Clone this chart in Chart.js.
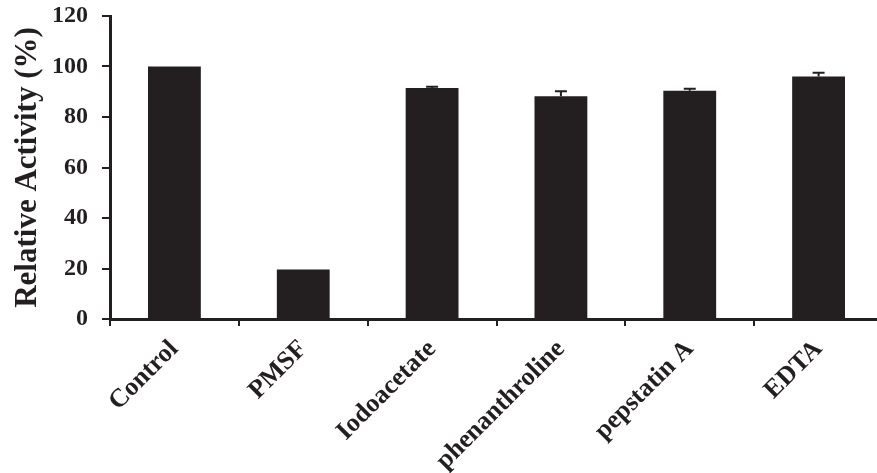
<!DOCTYPE html>
<html>
<head>
<meta charset="utf-8">
<script src="https://cdn.jsdelivr.net/npm/chart.js@4.4.1/dist/chart.umd.min.js"></script>
<style>
  html, body { margin: 0; padding: 0; background: #fff; overflow: hidden; }
  #wrap { position: relative; width: 883px; height: 473px; }
</style>
</head>
<body>
<div id="wrap"><canvas id="js-chart-activity"></canvas></div>
<script>
// Chart data
const categories = ['Control', 'PMSF', 'Iodoacetate', 'phenanthroline', 'pepstatin A', 'EDTA'];
const activityValues = [100, 19.6, 91.5, 88.2, 90.4, 96.0];
const activityErrors = [0, 0, 0.5, 2.0, 0.8, 1.5];
const yTicks = [0, 20, 40, 60, 80, 100, 120];

const ink = '#231f20';
const serif = '"Liberation Serif", "Times New Roman", serif';

// Error bars drawn from the bar scale
const errorBarPlugin = {
  id: 'errorBars',
  afterDatasetsDraw(chart) {
    const ctx = chart.ctx;
    const meta = chart.getDatasetMeta(0);
    const yScale = chart.scales.y;
    ctx.save();
    ctx.strokeStyle = ink;
    ctx.lineWidth = 2;
    meta.data.forEach((bar, i) => {
      const err = activityErrors[i];
      if (!err) return;
      const yBase = yScale.getPixelForValue(activityValues[i]);
      const yTop = yScale.getPixelForValue(activityValues[i] + err);
      ctx.beginPath();
      ctx.moveTo(bar.x, yBase);
      ctx.lineTo(bar.x, yTop);
      ctx.moveTo(bar.x - 6, yTop);
      ctx.lineTo(bar.x + 6, yTop);
      ctx.stroke();
    });
    ctx.restore();
  }
};

let chartData = {
  labels: categories,
  datasets: [
    {
      label: 'Relative Activity',
      data: activityValues,
      backgroundColor: ink,
      borderWidth: 0,
      categoryPercentage: 1,
      barPercentage: 0.41
    }
  ]
};

let chartOptions = {
  responsive: true,
  maintainAspectRatio: false,
  animation: false,
  layout: {
    padding: {top: 0, right: 0, bottom: 0, left: 0}
  },
  plugins: {
    legend: {display: false},
    tooltip: {enabled: false}
  },
  scales: {
    x: {
      grid: {
        offset: true,
        drawOnChartArea: false,
        drawTicks: true,
        tickLength: 7,
        lineWidth: 2,
        color: ink
      },
      border: {display: true, color: ink, width: 3},
      ticks: {
        color: ink,
        maxRotation: 45,
        minRotation: 45,
        padding: 8,
        font: {family: serif, size: 26, weight: 'bold'}
      },
      afterFit(scale) { scale.height = 154; }
    },
    y: {
      min: 0,
      max: 120,
      afterBuildTicks(scale) {
        scale.ticks = yTicks.map(v => ({value: v}));
      },
      grid: {
        drawOnChartArea: false,
        drawTicks: true,
        tickLength: 8,
        lineWidth: 2,
        color: ink
      },
      border: {display: true, color: ink, width: 3},
      ticks: {
        color: ink,
        padding: 14,
        font: {family: serif, size: 24, weight: 'bold'}
      },
      title: {
        display: true,
        text: 'Relative Activity (%)',
        color: ink,
        padding: {top: 9, bottom: 0},
        font: {family: serif, size: 31, weight: 'bold'}
      },
      afterFit(scale) {
        scale.width = 110;
        scale.paddingTop = 16;
      }
    }
  }
};

new Chart(document.getElementById('js-chart-activity'), {
  type: 'bar',
  data: chartData,
  options: chartOptions,
  plugins: [errorBarPlugin]
});
</script>
</body>
</html>
